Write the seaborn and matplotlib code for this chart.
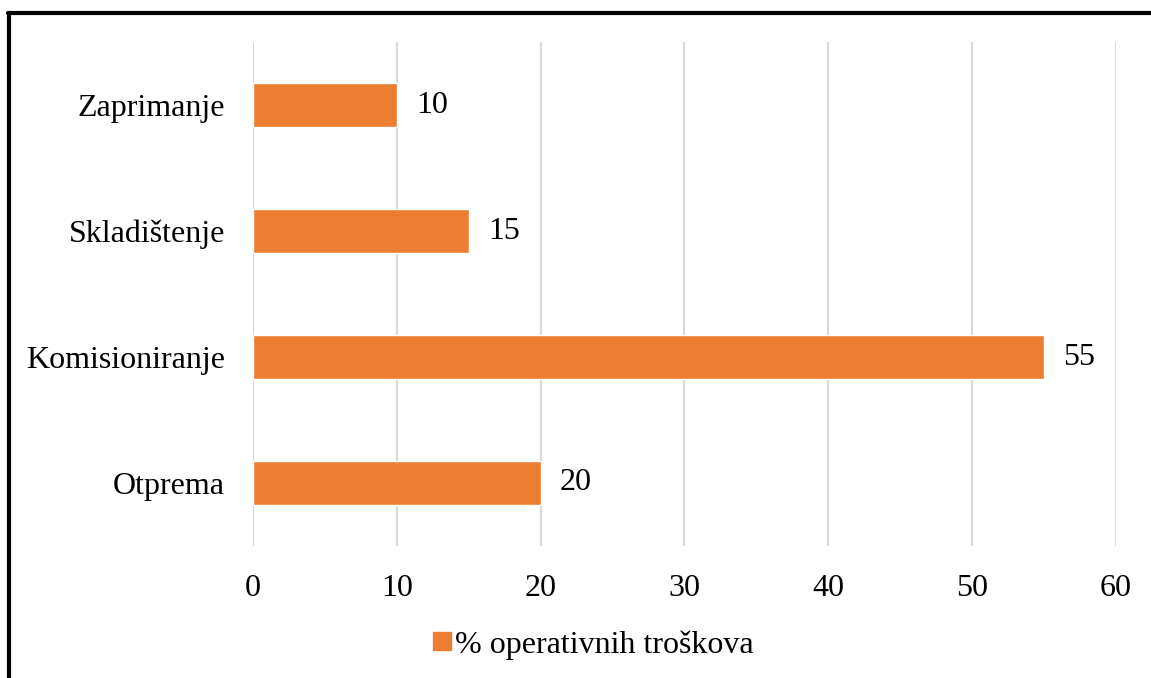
import pandas as pd
import matplotlib.pyplot as plt
from matplotlib.lines import Line2D
import seaborn as sns

# Data
categories = ['Zaprimanje', 'Skladištenje', 'Komisioniranje', 'Otprema']
values = [10, 15, 55, 20]
series_name = '% operativnih troškova'
x_ticks = [0, 10, 20, 30, 40, 50, 60]

df = pd.DataFrame({'category': categories, 'value': values, 'series': series_name})

sns.set_style('white')
plt.rcParams['font.family'] = ['Liberation Serif', 'DejaVu Serif']
plt.rcParams['text.color'] = 'black'

fig = plt.figure(figsize=(11.51, 6.78), dpi=100)
ax = fig.add_axes([0.2198, 0.1947, 0.7498, 0.7433])

sns.barplot(data=df, x='value', y='category', hue='series', palette=['#ED7D31'],
            saturation=1, width=0.35, orient='h', ax=ax, legend=False)

for container in ax.containers:
    ax.bar_label(container, fmt='%g', padding=14, fontsize=23, color='black')

ax.set_xlim(0, 60)
ax.set_xticks(x_ticks)
ax.set_xlabel('')
ax.set_ylabel('')
ax.grid(axis='x', color='#d9d9d9', linewidth=1.5)
ax.set_axisbelow(True)
sns.despine(ax=ax, left=True, bottom=True)
ax.tick_params(axis='both', length=0, labelsize=23, colors='black')
ax.tick_params(axis='x', pad=20)
ax.tick_params(axis='y', pad=20)

handle = Line2D([], [], marker='s', linestyle='', color='#ED7D31', markersize=13)
fig.legend([handle], [series_name], loc='center', bbox_to_anchor=(0.515, 0.049),
           frameon=False, fontsize=23, handlelength=0.6, handletextpad=0.1,
           labelcolor='black')

# Outer frame (top and left edges only, as in reference)
fig.add_artist(Line2D([8 / 1151, 1], [1 - 13 / 678, 1 - 13 / 678], color='black', linewidth=3,
                      transform=fig.transFigure))
fig.add_artist(Line2D([9 / 1151, 9 / 1151], [0, 1 - 13 / 678], color='black', linewidth=3,
                      transform=fig.transFigure))

plt.savefig('out.png', dpi=100)
plt.close()
